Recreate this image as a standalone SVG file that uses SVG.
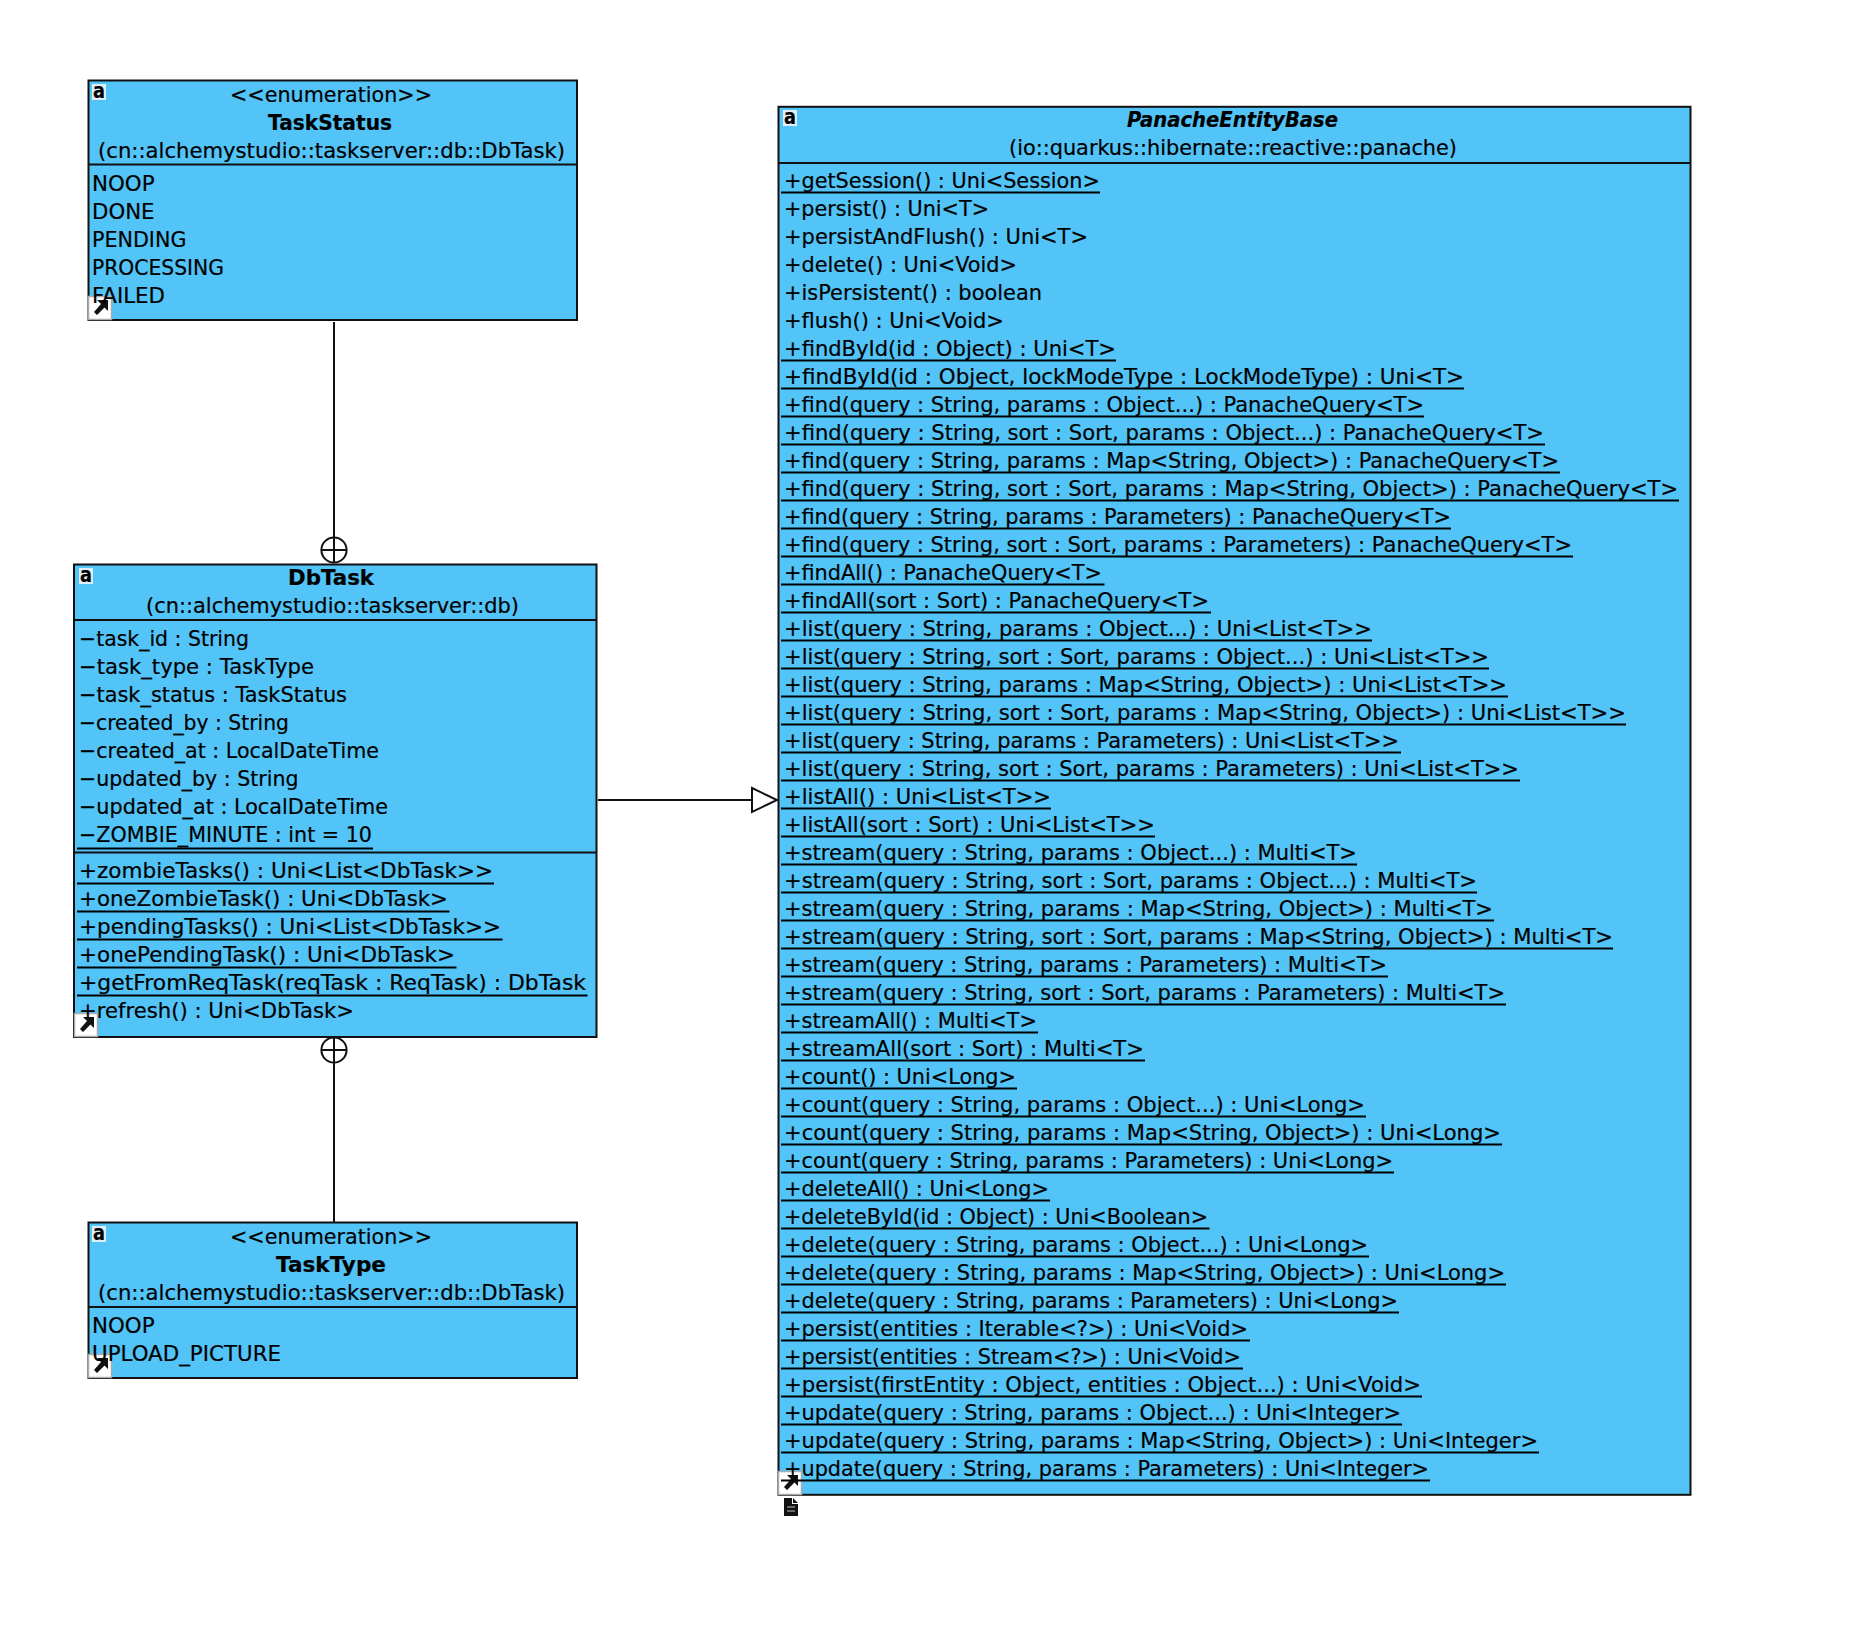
<svg xmlns="http://www.w3.org/2000/svg" xmlns:xlink="http://www.w3.org/1999/xlink" width="1850" height="1636" viewBox="0 0 1850 1636">
<style>
text{font-family:"DejaVu Sans","Liberation Sans",sans-serif;font-size:21px;fill:#000;stroke:#000;stroke-width:.2}
.b{font-weight:bold}
.bi{font-weight:bold;font-style:italic}
.box{fill:#52c4f8;stroke:#111;stroke-width:2}
.sep{stroke:#111;stroke-width:2}
.u{stroke:#000;stroke-width:2}
.conn{stroke:#111;stroke-width:2;fill:none}
.ic{font-size:22px;font-weight:bold}
</style>
<defs>
<marker id="gen" markerUnits="userSpaceOnUse" markerWidth="30" markerHeight="30" refX="2" refY="15" orient="auto" overflow="visible">
<polygon points="2,3 27,15 2,27" fill="#fff" stroke="#111" stroke-width="2"/>
</marker>
<marker id="nest" markerUnits="userSpaceOnUse" markerWidth="28" markerHeight="28" refX="27" refY="14" orient="auto" overflow="visible">
<circle cx="14" cy="14" r="12.6" fill="#fff" stroke="#111" stroke-width="2"/>
<path d="M1.4 14H26.6M14 1.4V26.6" stroke="#111" stroke-width="2"/>
</marker>
<g id="badge">
<rect width="14" height="16" fill="#dfeef7"/>
<text class="ic" x="1" y="14" textLength="12" lengthAdjust="spacingAndGlyphs">a</text>
</g>
<g id="link">
<rect x="0.5" y="0.5" width="23" height="23" fill="#fff" stroke="#aaa" stroke-width="1.5"/>
<path d="M9 4H20V15L16.5 11.5L9 19L6 16L13 8Z" fill="#111"/>
</g>
</defs>

<g id="connectors">
<line class="conn" x1="334" y1="322" x2="334" y2="563" marker-end="url(#nest)"/>
<line class="conn" x1="334" y1="1222" x2="334" y2="1037" marker-end="url(#nest)"/>
<line class="conn" x1="598" y1="800" x2="752" y2="800" marker-end="url(#gen)"/>
</g>

<g id="TaskStatus">
<rect class="box" x="88.5" y="80.5" width="488.5" height="239.5"/>
<line class="sep" x1="88.5" y1="164.5" x2="577" y2="164.5"/>
<use xlink:href="#badge" href="#badge" x="92" y="84"/>
<use xlink:href="#link" href="#link" x="88" y="296"/>
<text x="230" y="102" textLength="202" lengthAdjust="spacingAndGlyphs">&lt;&lt;enumeration&gt;&gt;</text>
<text class="b" x="268" y="130" textLength="124" lengthAdjust="spacingAndGlyphs">TaskStatus</text>
<text x="98" y="158" textLength="467" lengthAdjust="spacingAndGlyphs">(cn::alchemystudio::taskserver::db::DbTask)</text>
<text x="92" y="190.5" textLength="62.6" lengthAdjust="spacingAndGlyphs">NOOP</text>
<text x="92" y="218.5" textLength="62.6" lengthAdjust="spacingAndGlyphs">DONE</text>
<text x="92" y="246.5" textLength="94.4" lengthAdjust="spacingAndGlyphs">PENDING</text>
<text x="92" y="274.5" textLength="132" lengthAdjust="spacingAndGlyphs">PROCESSING</text>
<text x="92" y="302.5" textLength="73" lengthAdjust="spacingAndGlyphs">FAILED</text>
</g>

<g id="DbTask">
<rect class="box" x="74" y="564.5" width="522.5" height="472.5"/>
<line class="sep" x1="74" y1="620" x2="596.5" y2="620"/>
<line class="sep" x1="74" y1="852.5" x2="596.5" y2="852.5"/>
<use xlink:href="#badge" href="#badge" x="79" y="568"/>
<use xlink:href="#link" href="#link" x="74" y="1013"/>
<text class="b" x="288" y="585" textLength="86" lengthAdjust="spacingAndGlyphs">DbTask</text>
<text x="146" y="613" textLength="373" lengthAdjust="spacingAndGlyphs">(cn::alchemystudio::taskserver::db)</text>
<text x="79" y="646" textLength="170" lengthAdjust="spacingAndGlyphs">−task_id : String</text>
<text x="79" y="674" textLength="235" lengthAdjust="spacingAndGlyphs">−task_type : TaskType</text>
<text x="79" y="702" textLength="268" lengthAdjust="spacingAndGlyphs">−task_status : TaskStatus</text>
<text x="79" y="730" textLength="210" lengthAdjust="spacingAndGlyphs">−created_by : String</text>
<text x="79" y="758" textLength="300" lengthAdjust="spacingAndGlyphs">−created_at : LocalDateTime</text>
<text x="79" y="786" textLength="219.5" lengthAdjust="spacingAndGlyphs">−updated_by : String</text>
<text x="79" y="814" textLength="309" lengthAdjust="spacingAndGlyphs">−updated_at : LocalDateTime</text>
<text x="79" y="842" textLength="293" lengthAdjust="spacingAndGlyphs">−ZOMBIE_MINUTE : int = 10</text>
<line class="u" x1="77" y1="848.5" x2="373" y2="848.5"/>
<text x="79" y="878" textLength="414" lengthAdjust="spacingAndGlyphs">+zombieTasks() : Uni&lt;List&lt;DbTask&gt;&gt;</text>
<line class="u" x1="77" y1="883.5" x2="494" y2="883.5"/>
<text x="79" y="906" textLength="369" lengthAdjust="spacingAndGlyphs">+oneZombieTask() : Uni&lt;DbTask&gt;</text>
<line class="u" x1="77" y1="911.5" x2="449.5" y2="911.5"/>
<text x="79" y="934" textLength="422" lengthAdjust="spacingAndGlyphs">+pendingTasks() : Uni&lt;List&lt;DbTask&gt;&gt;</text>
<line class="u" x1="77" y1="939.5" x2="502.5" y2="939.5"/>
<text x="79" y="962" textLength="376" lengthAdjust="spacingAndGlyphs">+onePendingTask() : Uni&lt;DbTask&gt;</text>
<line class="u" x1="77" y1="967.5" x2="456.5" y2="967.5"/>
<text x="79" y="990" textLength="507" lengthAdjust="spacingAndGlyphs">+getFromReqTask(reqTask : ReqTask) : DbTask</text>
<line class="u" x1="77" y1="995.5" x2="587.5" y2="995.5"/>
<text x="79" y="1017.5" textLength="275" lengthAdjust="spacingAndGlyphs">+refresh() : Uni&lt;DbTask&gt;</text>
</g>

<g id="TaskType">
<rect class="box" x="88.5" y="1222.5" width="488.5" height="155.5"/>
<line class="sep" x1="88.5" y1="1307" x2="577" y2="1307"/>
<use xlink:href="#badge" href="#badge" x="92" y="1226"/>
<use xlink:href="#link" href="#link" x="88" y="1354"/>
<text x="230" y="1244" textLength="202" lengthAdjust="spacingAndGlyphs">&lt;&lt;enumeration&gt;&gt;</text>
<text class="b" x="276" y="1272" textLength="110" lengthAdjust="spacingAndGlyphs">TaskType</text>
<text x="98" y="1300" textLength="467" lengthAdjust="spacingAndGlyphs">(cn::alchemystudio::taskserver::db::DbTask)</text>
<text x="92" y="1332.5" textLength="62.6" lengthAdjust="spacingAndGlyphs">NOOP</text>
<text x="92" y="1360.5" textLength="189" lengthAdjust="spacingAndGlyphs">UPLOAD_PICTURE</text>
</g>

<g id="PanacheEntityBase">
<rect class="box" x="778.5" y="106.8" width="912" height="1388"/>
<line class="sep" x1="778.5" y1="163" x2="1690.5" y2="163"/>
<use xlink:href="#badge" href="#badge" x="783" y="110"/>
<use xlink:href="#link" href="#link" x="778" y="1471"/>
<text class="bi" x="1127" y="127" textLength="211" lengthAdjust="spacingAndGlyphs">PanacheEntityBase</text>
<text x="1009" y="155" textLength="448" lengthAdjust="spacingAndGlyphs">(io::quarkus::hibernate::reactive::panache)</text>
<text x="784" y="188" textLength="316" lengthAdjust="spacingAndGlyphs">+getSession() : Uni&lt;Session&gt;</text><line class="u" x1="781" y1="192.5" x2="1100" y2="192.5"/>
<text x="784" y="216" textLength="205" lengthAdjust="spacingAndGlyphs">+persist() : Uni&lt;T&gt;</text>
<text x="784" y="244" textLength="304" lengthAdjust="spacingAndGlyphs">+persistAndFlush() : Uni&lt;T&gt;</text>
<text x="784" y="272" textLength="233" lengthAdjust="spacingAndGlyphs">+delete() : Uni&lt;Void&gt;</text>
<text x="784" y="300" textLength="258" lengthAdjust="spacingAndGlyphs">+isPersistent() : boolean</text>
<text x="784" y="328" textLength="220" lengthAdjust="spacingAndGlyphs">+flush() : Uni&lt;Void&gt;</text>
<text x="784" y="356" textLength="332" lengthAdjust="spacingAndGlyphs">+findById(id : Object) : Uni&lt;T&gt;</text><line class="u" x1="781" y1="360.5" x2="1116" y2="360.5"/>
<text x="784" y="384" textLength="680" lengthAdjust="spacingAndGlyphs">+findById(id : Object, lockModeType : LockModeType) : Uni&lt;T&gt;</text><line class="u" x1="781" y1="388.5" x2="1464" y2="388.5"/>
<text x="784" y="412" textLength="640" lengthAdjust="spacingAndGlyphs">+find(query : String, params : Object...) : PanacheQuery&lt;T&gt;</text><line class="u" x1="781" y1="416.5" x2="1424" y2="416.5"/>
<text x="784" y="440" textLength="760" lengthAdjust="spacingAndGlyphs">+find(query : String, sort : Sort, params : Object...) : PanacheQuery&lt;T&gt;</text><line class="u" x1="781" y1="444.5" x2="1545" y2="444.5"/>
<text x="784" y="468" textLength="775" lengthAdjust="spacingAndGlyphs">+find(query : String, params : Map&lt;String, Object&gt;) : PanacheQuery&lt;T&gt;</text><line class="u" x1="781" y1="472.5" x2="1560" y2="472.5"/>
<text x="784" y="496" textLength="894" lengthAdjust="spacingAndGlyphs">+find(query : String, sort : Sort, params : Map&lt;String, Object&gt;) : PanacheQuery&lt;T&gt;</text><line class="u" x1="781" y1="500.5" x2="1679" y2="500.5"/>
<text x="784" y="524" textLength="667" lengthAdjust="spacingAndGlyphs">+find(query : String, params : Parameters) : PanacheQuery&lt;T&gt;</text><line class="u" x1="781" y1="528.5" x2="1451" y2="528.5"/>
<text x="784" y="552" textLength="788" lengthAdjust="spacingAndGlyphs">+find(query : String, sort : Sort, params : Parameters) : PanacheQuery&lt;T&gt;</text><line class="u" x1="781" y1="556.5" x2="1573" y2="556.5"/>
<text x="784" y="580" textLength="318" lengthAdjust="spacingAndGlyphs">+findAll() : PanacheQuery&lt;T&gt;</text><line class="u" x1="781" y1="584.5" x2="1104.5" y2="584.5"/>
<text x="784" y="608" textLength="425" lengthAdjust="spacingAndGlyphs">+findAll(sort : Sort) : PanacheQuery&lt;T&gt;</text><line class="u" x1="781" y1="612.5" x2="1211" y2="612.5"/>
<text x="784" y="636" textLength="588" lengthAdjust="spacingAndGlyphs">+list(query : String, params : Object...) : Uni&lt;List&lt;T&gt;&gt;</text><line class="u" x1="781" y1="640.5" x2="1372" y2="640.5"/>
<text x="784" y="664" textLength="705" lengthAdjust="spacingAndGlyphs">+list(query : String, sort : Sort, params : Object...) : Uni&lt;List&lt;T&gt;&gt;</text><line class="u" x1="781" y1="668.5" x2="1489" y2="668.5"/>
<text x="784" y="692" textLength="723" lengthAdjust="spacingAndGlyphs">+list(query : String, params : Map&lt;String, Object&gt;) : Uni&lt;List&lt;T&gt;&gt;</text><line class="u" x1="781" y1="696.5" x2="1508" y2="696.5"/>
<text x="784" y="720" textLength="842" lengthAdjust="spacingAndGlyphs">+list(query : String, sort : Sort, params : Map&lt;String, Object&gt;) : Uni&lt;List&lt;T&gt;&gt;</text><line class="u" x1="781" y1="724.5" x2="1626" y2="724.5"/>
<text x="784" y="748" textLength="615" lengthAdjust="spacingAndGlyphs">+list(query : String, params : Parameters) : Uni&lt;List&lt;T&gt;&gt;</text><line class="u" x1="781" y1="752.5" x2="1401" y2="752.5"/>
<text x="784" y="776" textLength="735" lengthAdjust="spacingAndGlyphs">+list(query : String, sort : Sort, params : Parameters) : Uni&lt;List&lt;T&gt;&gt;</text><line class="u" x1="781" y1="780.5" x2="1520" y2="780.5"/>
<text x="784" y="804" textLength="267" lengthAdjust="spacingAndGlyphs">+listAll() : Uni&lt;List&lt;T&gt;&gt;</text><line class="u" x1="781" y1="808.5" x2="1051" y2="808.5"/>
<text x="784" y="832" textLength="371" lengthAdjust="spacingAndGlyphs">+listAll(sort : Sort) : Uni&lt;List&lt;T&gt;&gt;</text><line class="u" x1="781" y1="836.5" x2="1155" y2="836.5"/>
<text x="784" y="860" textLength="573" lengthAdjust="spacingAndGlyphs">+stream(query : String, params : Object...) : Multi&lt;T&gt;</text><line class="u" x1="781" y1="864.5" x2="1357" y2="864.5"/>
<text x="784" y="888" textLength="693" lengthAdjust="spacingAndGlyphs">+stream(query : String, sort : Sort, params : Object...) : Multi&lt;T&gt;</text><line class="u" x1="781" y1="892.5" x2="1477" y2="892.5"/>
<text x="784" y="916" textLength="709" lengthAdjust="spacingAndGlyphs">+stream(query : String, params : Map&lt;String, Object&gt;) : Multi&lt;T&gt;</text><line class="u" x1="781" y1="920.5" x2="1494" y2="920.5"/>
<text x="784" y="944" textLength="829" lengthAdjust="spacingAndGlyphs">+stream(query : String, sort : Sort, params : Map&lt;String, Object&gt;) : Multi&lt;T&gt;</text><line class="u" x1="781" y1="948.5" x2="1613" y2="948.5"/>
<text x="784" y="972" textLength="603" lengthAdjust="spacingAndGlyphs">+stream(query : String, params : Parameters) : Multi&lt;T&gt;</text><line class="u" x1="781" y1="976.5" x2="1388" y2="976.5"/>
<text x="784" y="1000" textLength="721" lengthAdjust="spacingAndGlyphs">+stream(query : String, sort : Sort, params : Parameters) : Multi&lt;T&gt;</text><line class="u" x1="781" y1="1004.5" x2="1506" y2="1004.5"/>
<text x="784" y="1028" textLength="253" lengthAdjust="spacingAndGlyphs">+streamAll() : Multi&lt;T&gt;</text><line class="u" x1="781" y1="1032.5" x2="1038" y2="1032.5"/>
<text x="784" y="1056" textLength="360" lengthAdjust="spacingAndGlyphs">+streamAll(sort : Sort) : Multi&lt;T&gt;</text><line class="u" x1="781" y1="1060.5" x2="1145" y2="1060.5"/>
<text x="784" y="1084" textLength="232" lengthAdjust="spacingAndGlyphs">+count() : Uni&lt;Long&gt;</text><line class="u" x1="781" y1="1088.5" x2="1017" y2="1088.5"/>
<text x="784" y="1112" textLength="581" lengthAdjust="spacingAndGlyphs">+count(query : String, params : Object...) : Uni&lt;Long&gt;</text><line class="u" x1="781" y1="1116.5" x2="1366" y2="1116.5"/>
<text x="784" y="1140" textLength="717" lengthAdjust="spacingAndGlyphs">+count(query : String, params : Map&lt;String, Object&gt;) : Uni&lt;Long&gt;</text><line class="u" x1="781" y1="1144.5" x2="1502" y2="1144.5"/>
<text x="784" y="1168" textLength="609" lengthAdjust="spacingAndGlyphs">+count(query : String, params : Parameters) : Uni&lt;Long&gt;</text><line class="u" x1="781" y1="1172.5" x2="1394" y2="1172.5"/>
<text x="784" y="1196" textLength="265" lengthAdjust="spacingAndGlyphs">+deleteAll() : Uni&lt;Long&gt;</text><line class="u" x1="781" y1="1200.5" x2="1050" y2="1200.5"/>
<text x="784" y="1224" textLength="424" lengthAdjust="spacingAndGlyphs">+deleteById(id : Object) : Uni&lt;Boolean&gt;</text><line class="u" x1="781" y1="1228.5" x2="1209.5" y2="1228.5"/>
<text x="784" y="1252" textLength="584" lengthAdjust="spacingAndGlyphs">+delete(query : String, params : Object...) : Uni&lt;Long&gt;</text><line class="u" x1="781" y1="1256.5" x2="1369" y2="1256.5"/>
<text x="784" y="1280" textLength="721" lengthAdjust="spacingAndGlyphs">+delete(query : String, params : Map&lt;String, Object&gt;) : Uni&lt;Long&gt;</text><line class="u" x1="781" y1="1284.5" x2="1506" y2="1284.5"/>
<text x="784" y="1308" textLength="614" lengthAdjust="spacingAndGlyphs">+delete(query : String, params : Parameters) : Uni&lt;Long&gt;</text><line class="u" x1="781" y1="1312.5" x2="1399" y2="1312.5"/>
<text x="784" y="1336" textLength="464" lengthAdjust="spacingAndGlyphs">+persist(entities : Iterable&lt;?&gt;) : Uni&lt;Void&gt;</text><line class="u" x1="781" y1="1340.5" x2="1250" y2="1340.5"/>
<text x="784" y="1364" textLength="457" lengthAdjust="spacingAndGlyphs">+persist(entities : Stream&lt;?&gt;) : Uni&lt;Void&gt;</text><line class="u" x1="781" y1="1368.5" x2="1243" y2="1368.5"/>
<text x="784" y="1392" textLength="637" lengthAdjust="spacingAndGlyphs">+persist(firstEntity : Object, entities : Object...) : Uni&lt;Void&gt;</text><line class="u" x1="781" y1="1396.5" x2="1422" y2="1396.5"/>
<text x="784" y="1420" textLength="617" lengthAdjust="spacingAndGlyphs">+update(query : String, params : Object...) : Uni&lt;Integer&gt;</text><line class="u" x1="781" y1="1424.5" x2="1402" y2="1424.5"/>
<text x="784" y="1448" textLength="754" lengthAdjust="spacingAndGlyphs">+update(query : String, params : Map&lt;String, Object&gt;) : Uni&lt;Integer&gt;</text><line class="u" x1="781" y1="1452.5" x2="1539" y2="1452.5"/>
<text x="784" y="1476" textLength="645" lengthAdjust="spacingAndGlyphs">+update(query : String, params : Parameters) : Uni&lt;Integer&gt;</text><line class="u" x1="781" y1="1480.5" x2="1430" y2="1480.5"/>
<path d="M784 1498H792V1504H798V1516H784ZM793 1498L798 1503H793Z" fill="#111"/>
<path d="M787 1507H795M787 1511H795" stroke="#888" stroke-width="1.5"/>
</g>
</svg>
